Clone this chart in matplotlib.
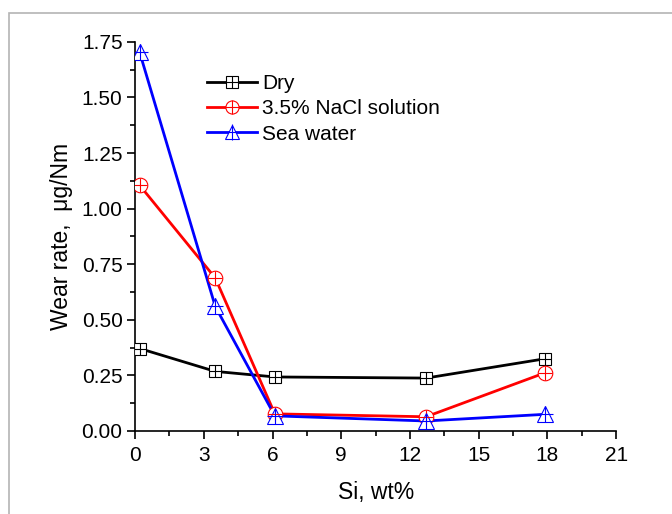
import matplotlib.pyplot as plt
from matplotlib.patches import Rectangle
from matplotlib.ticker import MultipleLocator
from matplotlib.legend_handler import HandlerTuple

plt.rcParams['font.family'] = ['Liberation Sans', 'DejaVu Sans']

si = [0.2, 3.5, 6.1, 12.7, 17.9]
dry = [0.371, 0.268, 0.243, 0.238, 0.325]
nacl = [1.105, 0.688, 0.077, 0.064, 0.262]
sea = [1.703, 0.560, 0.068, 0.045, 0.075]

fig = plt.figure(figsize=(6.72, 5.14), dpi=100)
ax = fig.add_axes([0.201, 0.1615, 0.716, 0.757])

# light grey frame round the figure, as in the source image
fig.patches.append(Rectangle((9 / 672, -0.1), 1.2, 1.1 - 13 / 514,
                             transform=fig.transFigure, fill=False,
                             edgecolor='#b4b4b4', linewidth=1.2))

series = [
    (dry, 'black', 's', 9, 'Dry'),
    (nacl, 'red', 'o', 10.5, '3.5% NaCl solution'),
    (sea, 'blue', '^', 11, 'Sea water'),
]
handles = []
for vals, col, mk, ms, lab in series:
    ax.plot(si, vals, color=col, lw=2.0, zorder=2)
    ax.plot(si, vals, ls='none', marker=mk, ms=ms,
            mfc='white', mec=col, mew=0.8, zorder=3)
    ax.plot(si, vals, ls='none', marker='+', ms=ms + 1 if mk == '^' else ms,
            mec=col, mew=0.8, zorder=4)
    lm = ms * 0.9
    h1, = ax.plot([], [], color=col, lw=2.0, marker=mk, ms=lm,
                  mfc='white', mec=col, mew=0.8)
    h2, = ax.plot([], [], ls='none', marker='+', ms=lm + 1 if mk == '^' else lm,
                  mec=col, mew=0.8)
    handles.append((h1, h2))

ax.set_xlim(0, 21)
ax.set_ylim(0, 1.75)
ax.xaxis.set_major_locator(MultipleLocator(3))
ax.xaxis.set_minor_locator(MultipleLocator(1.5))
ax.yaxis.set_major_locator(MultipleLocator(0.25))
ax.yaxis.set_minor_locator(MultipleLocator(0.125))
ax.yaxis.set_major_formatter(plt.FormatStrFormatter('%.2f'))
ax.tick_params(which='major', direction='out', length=6, width=1.2,
               labelsize=15)
ax.tick_params(axis='x', pad=4.5)
ax.tick_params(axis='y', pad=3)
ax.tick_params(which='minor', direction='out', length=3.5, width=1.2)
for s in ['top', 'right']:
    ax.spines[s].set_visible(False)
for s in ['left', 'bottom']:
    ax.spines[s].set_linewidth(1.2)

ax.set_xlabel('Si, wt%', fontsize=16.5, labelpad=12)
ax.set_ylabel('Wear rate,  μg/Nm', fontsize=16.5, labelpad=6)

leg = ax.legend(handles, [s[4] for s in series], loc='upper left',
                bbox_to_anchor=(0.149, 0.917), frameon=False, fontsize=15,
                handlelength=2.4, handletextpad=0.25, labelspacing=0.3,
                borderpad=0, borderaxespad=0,
                handler_map={tuple: HandlerTuple(ndivide=1, pad=0)})

fig.savefig('out.png', dpi=100)
